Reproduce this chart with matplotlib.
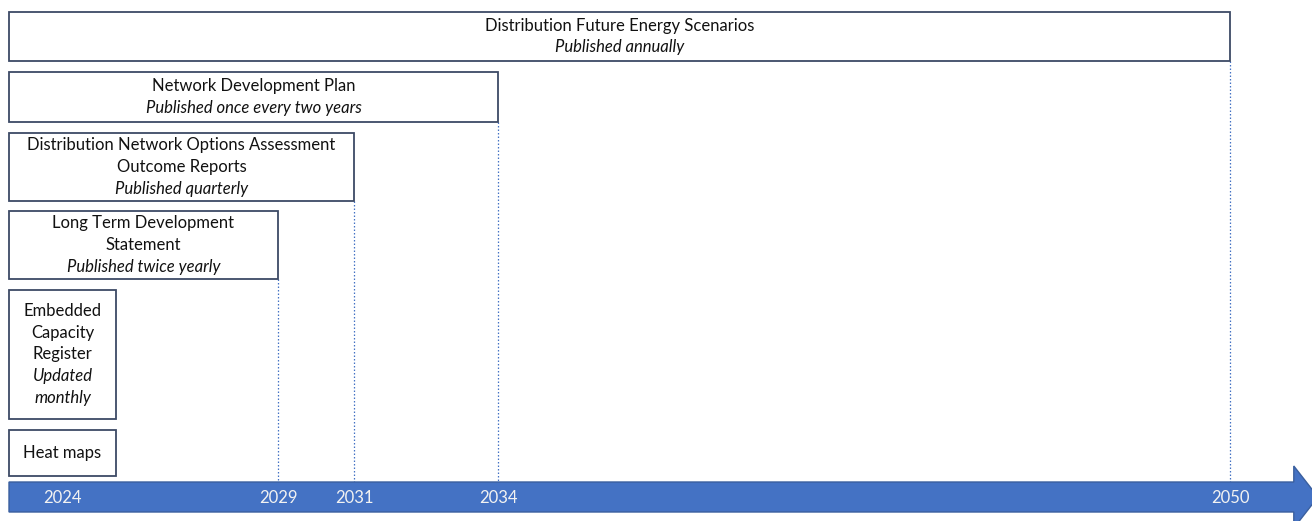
import numpy as np
import matplotlib
matplotlib.use('Agg')
import matplotlib.pyplot as plt
from matplotlib.patches import Rectangle, Polygon

plt.rcParams['font.family'] = ['Lato', 'DejaVu Sans']

# data
products = ['Distribution Future Energy Scenarios',
            'Network Development Plan',
            'Distribution Network Options Assessment\nOutcome Reports',
            'Long Term Development\nStatement',
            'Embedded\nCapacity\nRegister',
            'Heat maps']
cadence = ['Published annually',
           'Published once every two years',
           'Published quarterly',
           'Published twice yearly',
           'Updated\nmonthly',
           '']
start_year = 2023
end_years = [2050, 2034, 2031, 2029, 2025, 2025]
tick_years = [2024, 2029, 2031, 2034, 2050]
marked_years = [2050, 2034, 2031, 2029, None, None]

# layout: the timeline in the source isn't linear, so map years to pixels piecewise
KNOT_YEARS = np.array([2022, 2023, 2024, 2025, 2029, 2031, 2034, 2050, 2052])
KNOT_PX = np.array([-44, 9, 62, 116, 278, 354, 498, 1230, 1318])
ROW_TOP = [12, 72, 133, 211, 290, 430]
ROW_BOT = [61, 122, 201, 279, 419, 476]
LINE_H = 21.8
BAR_TOP, BAR_BOT = 482, 512
HEAD_TOP, HEAD_BOT = 466, 528
HEAD_START, TIP = 2051.45, 2052.2

BOX_EDGE = '#3d4a66'
BLUE = '#4472c4'


def fwd(x):
    return np.interp(x, KNOT_YEARS, KNOT_PX)


def inv(p):
    return np.interp(p, KNOT_PX, KNOT_YEARS)


fig = plt.figure(figsize=(13.12, 5.21), dpi=100)
ax = fig.add_axes([0, 0, 1, 1])
ax.set_xscale('function', functions=(fwd, inv))
ax.set_xlim(inv(0), inv(1312))
ax.set_ylim(521, 0)
ax.axis('off')

for i, name in enumerate(products):
    top, bot = ROW_TOP[i], ROW_BOT[i]
    ax.add_patch(Rectangle((start_year, top), end_years[i] - start_year, bot - top,
                           facecolor='white', edgecolor=BOX_EDGE, lw=1.3, zorder=3))
    lines = [(t, 'normal') for t in name.split('\n')]
    if cadence[i]:
        lines += [(t, 'italic') for t in cadence[i].split('\n')]
    mid = (top + bot) / 2
    cx = inv((fwd(start_year) + fwd(end_years[i])) / 2)
    for k, (t, style) in enumerate(lines):
        y = mid + (k - (len(lines) - 1) / 2) * LINE_H
        ax.text(cx, y, t, ha='center', va='center', fontsize=12, style=style,
                color='#111111', zorder=4)
    if marked_years[i] is not None:
        ax.plot([marked_years[i], marked_years[i]], [bot, BAR_TOP], color=BLUE,
                lw=0.9, ls=(0, (1.2, 1.6)), zorder=2)

# timeline arrow
arrow = [(start_year, BAR_TOP), (HEAD_START, BAR_TOP), (HEAD_START, HEAD_TOP),
         (TIP, (BAR_TOP + BAR_BOT) / 2), (HEAD_START, HEAD_BOT),
         (HEAD_START, BAR_BOT), (start_year, BAR_BOT)]
ax.add_patch(Polygon(arrow, closed=True, facecolor=BLUE, edgecolor='#3a5f9e',
                     lw=1, zorder=3))

for yr in tick_years:
    ax.text(yr, (BAR_TOP + BAR_BOT) / 2 + 1, str(yr), ha='center', va='center',
            fontsize=12, color='#f2f2f2', zorder=4)

fig.savefig('out.png', dpi=100)
